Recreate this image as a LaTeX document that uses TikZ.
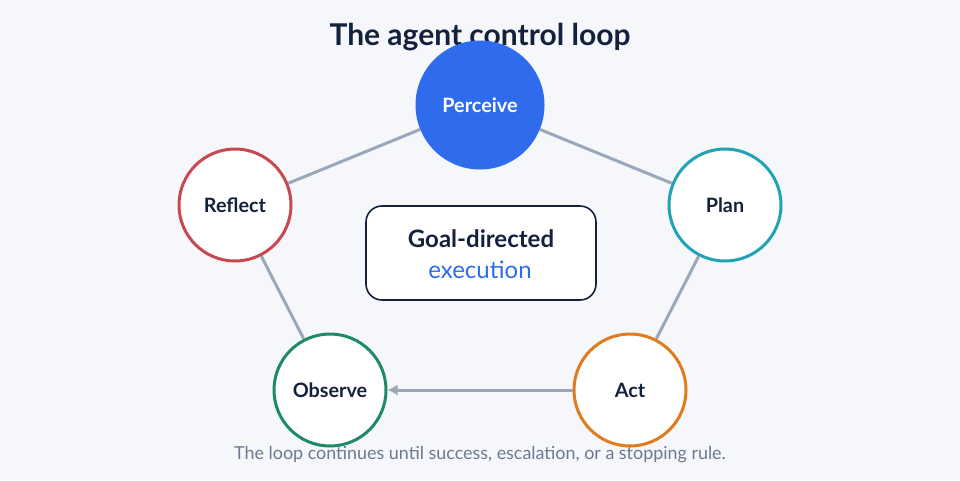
\documentclass[tikz,border=0pt]{standalone}
\usepackage{fontspec}
\setmainfont{Lato}
\usetikzlibrary{arrows.meta}
\definecolor{bg}{HTML}{F5F7FB}
\definecolor{navy}{HTML}{14213D}
\definecolor{blueA}{HTML}{2F6BED}
\definecolor{tealA}{HTML}{22A3B5}
\definecolor{redA}{HTML}{C8484F}
\definecolor{greenA}{HTML}{1E8A6A}
\definecolor{orangeA}{HTML}{E07B20}
\definecolor{edgeC}{HTML}{9AA8BA}
\definecolor{capC}{HTML}{6B7A90}
\definecolor{execC}{HTML}{2F6BED}
\tikzset{
  stage/.style={circle, draw, line width=3pt, fill=white, minimum size=112pt, inner sep=0pt,
    font=\fontsize{19.8pt}{22pt}\selectfont\bfseries, text=navy},
  link/.style={draw=edgeC, line width=3pt},
}
\begin{document}
\begin{tikzpicture}[x=1pt,y=-1pt]
\fill[bg] (0,0) rectangle (960,480);
\useasboundingbox (0,0) rectangle (960,480);
\node[font=\fontsize{30pt}{34pt}\selectfont\bfseries, text=navy] (title) at (480,37) {The agent control loop};
\node[stage, fill=blueA, draw=blueA, text=white, minimum size=126pt] (per) at (480,105) {Perceive};
\node[stage, draw=tealA] (plan) at (725,205) {Plan};
\node[stage, draw=redA] (ref) at (235,205) {Reflect};
\node[stage, draw=greenA] (obs) at (330,390) {Observe};
\node[stage, draw=orangeA] (act) at (630,390) {Act};
\draw[rounded corners=16pt, draw=navy, line width=1.6pt, fill=white] (366,206) rectangle (596,300);
\node[font=\fontsize{24pt}{28pt}\selectfont\bfseries, text=navy] (goal) at (481,239) {Goal-directed};
\node[font=\fontsize{24pt}{28pt}\selectfont, text=execC] (exec) at (480,270) {execution};
\draw[link] (per) -- (plan);
\draw[link] (plan) -- (act);
\draw[link, -{Latex[length=10pt,width=11pt]}] (act) -- (obs);
\draw[link] (obs) -- (ref);
\draw[link] (ref) -- (per);
\node[font=\fontsize{17.9pt}{20pt}\selectfont, text=capC] (cap) at (480,455) {The loop continues until success, escalation, or a stopping rule.};
\end{tikzpicture}
\end{document}
